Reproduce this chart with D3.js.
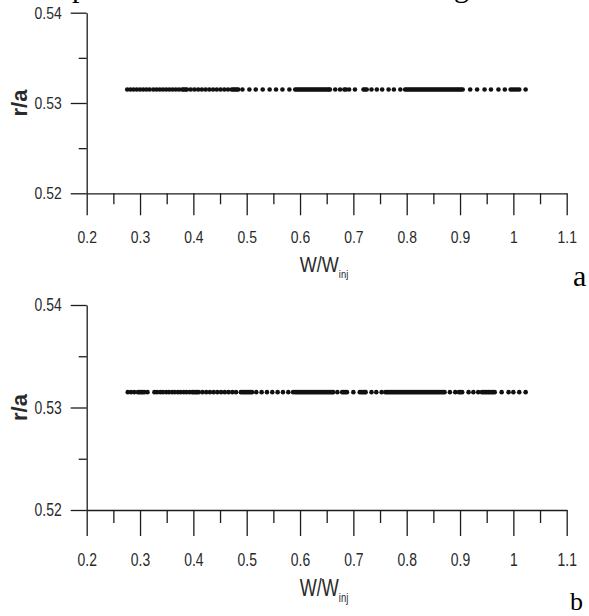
<!DOCTYPE html>
<html>
<head>
<meta charset="utf-8">
<script src="https://cdn.jsdelivr.net/npm/d3@7"></script>
<style>
body { margin: 0; background: #fff; }
svg { display: block; }
</style>
</head>
<body>
<svg id="chart"></svg>
<script>
// axis ticks
const xTicks = [0.2, 0.3, 0.4, 0.5, 0.6, 0.7, 0.8, 0.9, 1.0, 1.1];
const xTickLabels = ["0.2", "0.3", "0.4", "0.5", "0.6", "0.7", "0.8", "0.9", "1", "1.1"];
const xMinorTicks = [0.25, 0.35, 0.45, 0.55, 0.65, 0.75, 0.85, 0.95, 1.05];
const yTicks = [0.52, 0.53, 0.54];
const yTickLabels = ["0.52", "0.53", "0.54"];
const yMinorTicks = [0.525, 0.535];

// r/a of the orbit in each panel
const rA = 0.5315;
const rB = 0.5315;

// W/W_inj values of the points, panel a
const wA = [
    0.276, 0.282, 0.288, 0.294, 0.300, 0.306, 0.312, 0.318,
    0.325, 0.331, 0.337, 0.343, 0.349, 0.355, 0.361, 0.367, 0.373,
    0.379, 0.382, 0.385, 0.388,
    0.395, 0.402, 0.409, 0.416, 0.423, 0.430, 0.437, 0.444, 0.451, 0.458, 0.465,
    0.472, 0.475, 0.478, 0.481, 0.484,
    0.492, 0.505, 0.517, 0.530, 0.543, 0.555, 0.567, 0.580,
    0.591, 0.594, 0.597, 0.600, 0.603, 0.606, 0.609, 0.612, 0.615, 0.618, 0.621, 0.624,
    0.627, 0.630, 0.633, 0.636, 0.639, 0.642, 0.645, 0.648, 0.651, 0.654, 0.656,
    0.666, 0.675, 0.683, 0.686, 0.692, 0.703, 0.719, 0.722, 0.725, 0.734, 0.744, 0.754,
    0.766, 0.776, 0.788,
    0.797, 0.800, 0.803, 0.806, 0.809, 0.812, 0.815, 0.818, 0.821, 0.824, 0.827, 0.830,
    0.833, 0.836, 0.839, 0.842, 0.845, 0.848, 0.851, 0.854, 0.857, 0.860, 0.863, 0.866,
    0.869, 0.872, 0.875, 0.878, 0.881, 0.884, 0.887, 0.890, 0.893, 0.896, 0.899, 0.902, 0.905,
    0.919, 0.932, 0.946, 0.958, 0.972, 0.984, 0.995, 0.999, 1.003, 1.007, 1.011, 1.023
];

// W/W_inj values of the points, panel b
const wB = [
    0.277, 0.283, 0.289, 0.296, 0.299, 0.302, 0.305, 0.308, 0.314,
    0.327, 0.332, 0.338, 0.343, 0.349, 0.354, 0.360, 0.365, 0.371, 0.376, 0.382, 0.387, 0.393, 0.398,
    0.401, 0.404, 0.407, 0.410,
    0.417, 0.424, 0.431, 0.438, 0.445, 0.452, 0.459, 0.466, 0.473, 0.480,
    0.489, 0.492, 0.495, 0.498, 0.501, 0.504, 0.507, 0.510,
    0.518, 0.528, 0.538, 0.548, 0.558, 0.568, 0.578, 0.587,
    0.591, 0.594, 0.597, 0.600, 0.603, 0.606, 0.609, 0.612, 0.615, 0.618, 0.621, 0.624,
    0.627, 0.630, 0.633, 0.636, 0.639, 0.642, 0.645, 0.648, 0.651, 0.654, 0.657, 0.660, 0.662,
    0.670, 0.679, 0.682, 0.685, 0.688, 0.700, 0.712, 0.715, 0.718, 0.721, 0.723, 0.734, 0.743, 0.753,
    0.760, 0.763, 0.766, 0.769, 0.772, 0.775, 0.778, 0.781, 0.784, 0.787, 0.790, 0.793,
    0.796, 0.799, 0.802, 0.805, 0.808, 0.811, 0.814, 0.817, 0.820, 0.823, 0.826, 0.829,
    0.832, 0.835, 0.838, 0.841, 0.844, 0.847, 0.850, 0.853, 0.856, 0.859, 0.862, 0.865, 0.868, 0.871,
    0.881, 0.891, 0.898, 0.901, 0.904, 0.916, 0.925, 0.934,
    0.941, 0.944, 0.947, 0.950, 0.953, 0.956, 0.959, 0.962, 0.965,
    0.978, 0.991, 1.000, 1.011, 1.023
];

let fontFamily = '"Liberation Sans", Arial, sans-serif';
let serifFamily = '"Liberation Serif", "Times New Roman", serif';
let ink = '#1c1c1c';
let narrow = 0.82; // the figure uses a narrow sans font

let svg = d3.select('#chart')
    .attr('width', 589)
    .attr('height', 616);

svg.append('rect').attr('width', 589).attr('height', 616).attr('fill', '#fff');

// bits of the caption line above the figure, cut by the crop
svg.append('g')
    .attr('font-family', serifFamily)
    .attr('font-size', 30)
    .attr('fill', '#000')
    .call(g => {
        g.append('text').attr('x', 72).attr('y', -3).text('p');
        g.append('text').attr('x', 454).attr('y', -3).text('g');
    });

let x = d3.scaleLinear().domain([0.2, 1.1]).range([86.7, 566.7]);

let panels = [
    {w: wA, r: rA, label: 'a', top: 12.7, bottom: 193.3, majorLen: 22, minorLen: 11, pad: 16, sy: 1, titleY: 272.3, labelX: 573, labelY: 286, labelSize: 30},
    {w: wB, r: rB, label: 'b', top: 305, bottom: 510, majorLen: 26, minorLen: 13, pad: 17, sy: 1.08, titleY: 596, labelX: 570, labelY: 610, labelSize: 26}
];

function drawPanel(p) {
    let y = d3.scaleLinear().domain([0.52, 0.54]).range([p.bottom, p.top]);
    let g = svg.append('g').attr('color', ink);

    // x axis, minor ticks first
    g.append('g')
        .attr('transform', `translate(0, ${p.bottom})`)
        .call(d3.axisBottom(x).tickValues(xMinorTicks).tickSize(p.minorLen).tickFormat(''))
        .call(a => a.select('.domain').remove())
        .selectAll('line').attr('stroke-width', 1.3);
    let xAxis = g.append('g')
        .attr('transform', `translate(0, ${p.bottom})`)
        .call(d3.axisBottom(x)
            .tickValues(xTicks)
            .tickSize(p.majorLen)
            .tickSizeOuter(0)
            .tickPadding(p.pad)
            .tickFormat((d, i) => xTickLabels[i]))
        .attr('font-family', fontFamily)
        .attr('font-size', 17);
    xAxis.selectAll('line, path').attr('stroke-width', 1.3);
    xAxis.selectAll('text')
        .attr('fill', '#2a2a2a')
        .attr('y', (p.majorLen + p.pad) / p.sy)
        .attr('transform', `scale(${narrow}, ${p.sy})`);

    // y axis
    g.append('g')
        .attr('transform', `translate(${x(0.2)}, 0)`)
        .call(d3.axisLeft(y).tickValues(yMinorTicks).tickSize(8).tickFormat(''))
        .call(a => a.select('.domain').remove())
        .selectAll('line').attr('stroke-width', 1.3);
    let yAxis = g.append('g')
        .attr('transform', `translate(${x(0.2)}, 0)`)
        .call(d3.axisLeft(y)
            .tickValues(yTicks)
            .tickSize(16)
            .tickSizeOuter(0)
            .tickPadding(9)
            .tickFormat((d, i) => yTickLabels[i]))
        .attr('font-family', fontFamily)
        .attr('font-size', 17);
    yAxis.selectAll('line, path').attr('stroke-width', 1.3);
    yAxis.selectAll('text')
        .attr('fill', '#2a2a2a')
        .attr('x', -25 / narrow)
        .attr('transform', `scale(${narrow}, ${p.sy})`);

    // points
    g.append('g')
        .selectAll('circle')
        .data(p.w)
        .join('circle')
        .attr('cx', d => x(d))
        .attr('cy', y(p.r))
        .attr('r', 2.3)
        .attr('fill', '#111');

    // axis titles
    let t = g.append('text')
        .attr('transform', `translate(324, ${p.titleY}) scale(${narrow}, ${p.sy})`)
        .attr('text-anchor', 'middle')
        .attr('font-family', fontFamily)
        .attr('font-size', 22)
        .attr('fill', '#2a2a2a');
    t.append('tspan').text('W/W');
    t.append('tspan').attr('font-size', 11.5).attr('dy', 6).text('inj');

    g.append('text')
        .attr('transform', `translate(27, ${y(0.53)}) rotate(-90)`)
        .attr('text-anchor', 'middle')
        .attr('font-family', fontFamily)
        .attr('font-weight', 'bold')
        .attr('font-size', 22)
        .attr('fill', '#2a2a2a')
        .text('r/a');

    // panel letter
    g.append('text')
        .attr('x', p.labelX)
        .attr('y', p.labelY)
        .attr('font-family', serifFamily)
        .attr('font-size', p.labelSize)
        .attr('fill', '#000')
        .text(p.label);
}

panels.forEach(drawPanel);
</script>
</body>
</html>
